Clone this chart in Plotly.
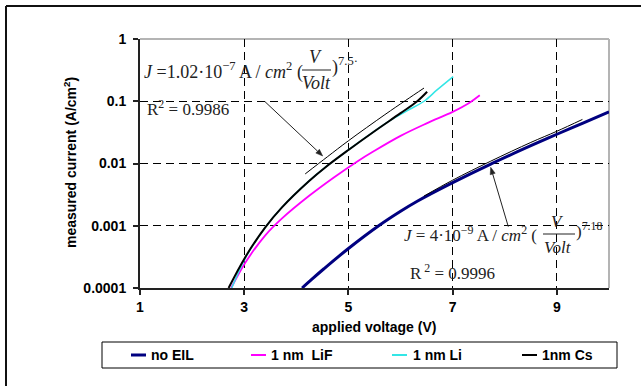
import plotly.graph_objects as go

# ---------------- data ----------------
V_noEIL = [4.11, 4.3, 4.53, 5.0, 5.58, 6.0, 6.32, 7.0, 7.73, 8.5, 9.0, 9.5, 10.0]
J_noEIL = [1.0e-4, 1.39e-4, 2.04e-4, 4.31e-4, 1.0e-3, 1.71e-3, 2.48e-3, 4.93e-3, 9.8e-3, 1.93e-2, 2.95e-2, 4.47e-2, 6.76e-2]

V_LiF = [2.75, 3.02, 3.40, 3.72, 4.24, 4.72, 5.17, 5.5, 6.0, 6.5, 7.0, 7.3, 7.52]
J_LiF = [1.0e-4, 2.54e-4, 6.95e-4, 1.30e-3, 3.0e-3, 5.97e-3, 1.08e-2, 1.6e-2, 2.78e-2, 4.41e-2, 6.75e-2, 9.2e-2, 1.25e-1]

V_Li = [2.76, 3.02, 3.40, 3.72, 4.24, 4.56, 5.0, 5.5, 5.81, 6.13, 6.45, 6.70, 7.01]
J_Li = [1.0e-4, 3.0e-4, 9.35e-4, 1.96e-3, 5.2e-3, 8.73e-3, 1.65e-2, 3.3e-2, 4.99e-2, 7.08e-2, 1.0e-1, 1.52e-1, 2.49e-1]

V_Cs = [2.70, 3.02, 3.40, 3.72, 4.24, 4.56, 5.0, 5.5, 6.0, 6.32, 6.51]
J_Cs = [1.0e-4, 3.13e-4, 9.35e-4, 1.96e-3, 5.2e-3, 8.73e-3, 1.65e-2, 3.3e-2, 6.43e-2, 1.0e-1, 1.42e-1]

V_fitCs = [4.17, 4.6, 5.0, 5.7, 6.1, 6.45]
J_fitCs = [6.8e-3, 1.29e-2, 2.32e-2, 6.1e-2, 1.035e-1, 1.63e-1]

V_fitNo = [6.45, 7.0, 7.73, 8.5, 9.0, 9.49]
J_fitNo = [3.0e-3, 5.4e-3, 1.09e-2, 2.18e-2, 3.3e-2, 5.1e-2]

x_ticks = [1, 3, 5, 7, 9]
y_ticks = [1e-4, 1e-3, 1e-2, 1e-1, 1]
y_ticktext = ["0.0001", "0.001", "0.01", "0.1", "1"]

series_names = ["no EIL", "1 nm  LiF", "1 nm Li", "1nm Cs"]
series_colors = ["#000080", "#FF00FF", "#33E6E6", "#000000"]

# ---------------- layout geometry ----------------
W, H = 641, 386
L, R, T, B = 140, 32, 39, 98
PW, PH = W - L - R, H - T - B


def px(x):
    return (x - L) / PW


def py(y):
    return (H - B - y) / PH


SANS = "Liberation Sans, Arial, sans-serif"
SERIF = "Liberation Serif, Times New Roman, serif"

fig = go.Figure()

series = [
    (V_noEIL, J_noEIL, 3.0),
    (V_LiF, J_LiF, 1.8),
    (V_Li, J_Li, 1.5),
    (V_Cs, J_Cs, 2.0),
]
for (vx, jy, w), name, col in zip(series, series_names, series_colors):
    fig.add_trace(go.Scatter(x=vx, y=jy, mode="lines", name=name, showlegend=False,
                             line=dict(color=col, width=w, shape="spline", smoothing=1.0)))

for vx, jy, name in [(V_fitCs, J_fitCs, "fit Cs"), (V_fitNo, J_fitNo, "fit no EIL")]:
    fig.add_trace(go.Scatter(x=vx, y=jy, mode="lines", name=name, showlegend=False,
                             line=dict(color="black", width=1, shape="spline", smoothing=1.0)))

axis_common = dict(
    showgrid=True, gridcolor="black", gridwidth=1, griddash="8px,5px",
    showline=True, linecolor="#222222", linewidth=2,
    ticks="outside", ticklen=5, tickcolor="#222222", tickwidth=1.5,
    zeroline=False,
    tickfont=dict(family=SANS, size=14, color="black", weight="bold"),
)

fig.update_xaxes(range=[1, 10], tickvals=x_ticks, **axis_common)
fig.update_yaxes(type="log", range=[-4, 0], tickvals=y_ticks, ticktext=y_ticktext,
                 ticklabelstandoff=4, **axis_common)

shapes = []
# outer chart frame: only the top and left edges lie inside the picture
shapes.append(dict(type="line", xref="paper", yref="paper",
                   x0=px(6), x1=px(641), y0=py(6), y1=py(6),
                   line=dict(color="#111111", width=2)))
shapes.append(dict(type="line", xref="paper", yref="paper",
                   x0=px(6), x1=px(6), y0=py(6), y1=py(386),
                   line=dict(color="#111111", width=2)))
# grey plot-area border (top and right)
shapes.append(dict(type="line", xref="paper", yref="paper", x0=0, x1=1, y0=1, y1=1,
                   line=dict(color="#b4b4b4", width=2), layer="below"))
shapes.append(dict(type="line", xref="paper", yref="paper", x0=1, x1=1, y0=0, y1=1,
                   line=dict(color="#b4b4b4", width=2), layer="below"))

# legend box
shapes.append(dict(type="rect", xref="paper", yref="paper",
                   x0=px(102), x1=px(617), y0=py(368), y1=py(342),
                   line=dict(color="black", width=1), fillcolor="white"))
leg_line_x = [131, 251, 392, 522]
leg_text_x = [149, 269, 411, 540]
leg_y = 355
for lx, col in zip(leg_line_x, series_colors):
    shapes.append(dict(type="line", xref="paper", yref="paper",
                       x0=px(lx), x1=px(lx + 15), y0=py(leg_y), y1=py(leg_y),
                       line=dict(color=col, width=3 if col == "#000080" else 2)))

# fraction bars in the formulas
shapes.append(dict(type="line", xref="paper", yref="paper",
                   x0=px(302), x1=px(331), y0=py(70), y1=py(70),
                   line=dict(color="#222222", width=1)))
shapes.append(dict(type="line", xref="paper", yref="paper",
                   x0=px(543), x1=px(575), y0=py(234), y1=py(234),
                   line=dict(color="#222222", width=1)))


# arrows (line + filled head), given in pixel positions of the picture
def arrow(tail, head, size=7, half=2.6):
    (tx, ty), (hx, hy) = tail, head
    dx, dy = hx - tx, hy - ty
    n = (dx * dx + dy * dy) ** 0.5
    ux, uy = dx / n, dy / n
    bx, by = hx - ux * size, hy - uy * size
    shapes.append(dict(type="line", xref="paper", yref="paper",
                       x0=px(tx), y0=py(ty), x1=px(bx), y1=py(by),
                       line=dict(color="#222222", width=1)))
    p1 = (bx - uy * half, by + ux * half)
    p2 = (bx + uy * half, by - ux * half)
    path = "M {} {} L {} {} L {} {} Z".format(px(hx), py(hy), px(p1[0]), py(p1[1]),
                                              px(p2[0]), py(p2[1]))
    shapes.append(dict(type="path", xref="paper", yref="paper", path=path,
                       fillcolor="#222222", line=dict(color="#222222", width=0.5)))


arrow((265, 101.7), (322.7, 156))
arrow((508.3, 226.7), (490.7, 167.3))

ann = []
for tx, name in zip(leg_text_x, series_names):
    ann.append(dict(xref="paper", yref="paper", x=px(tx), y=py(leg_y), text=name,
                    showarrow=False, xanchor="left", yanchor="middle",
                    font=dict(family=SANS, size=14, color="black", weight="bold")))

# axis titles
ann.append(dict(xref="paper", yref="paper", x=px(374), y=py(327),
                text="applied voltage (V)", showarrow=False,
                xanchor="center", yanchor="middle",
                font=dict(family=SANS, size=14, color="black", weight="bold")))
ann.append(dict(xref="paper", yref="paper", x=px(70), y=py(163),
                text="measured current (A/cm<sup>2</sup>)", showarrow=False, textangle=-90,
                xanchor="center", yanchor="middle",
                font=dict(family=SANS, size=14, color="black", weight="bold")))


def txt(x, y, s, anchor="left", size=17):
    ann.append(dict(xref="paper", yref="paper", x=px(x), y=py(y), text=s,
                    showarrow=False, xanchor=anchor, yanchor="middle",
                    font=dict(family=SERIF, size=size, color="#222222")))


# top formula
txt(305, 71, "<i>J</i> =1.02·10<sup>−7</sup> A / <i>cm</i><sup>2</sup> (", "right", 18)
txt(315, 57, "<i>V</i>", "center", 18)
txt(316, 83, "<i>Volt</i>", "center", 18)
txt(330, 66, ")<sup>7.5·</sup>", "left", 18)
txt(145, 108, "R<sup>2</sup> = 0.9986", "left", 17)

# bottom formula
txt(539, 234, "<i>J</i> = 4·10<sup>−9</sup> A / <i>cm</i><sup>2</sup> (", "right", 17)
txt(557, 221, "<i>V</i>", "center", 17)
txt(558, 247, "<i>Volt</i>", "center", 17)
txt(574, 230, ")<sup>7.18</sup>", "left", 17)
txt(408, 272, "R<sup> 2</sup> = 0.9996", "left", 17)

fig.update_layout(
    width=W, height=H,
    margin=dict(l=L, r=R, t=T, b=B),
    paper_bgcolor="white", plot_bgcolor="white",
    showlegend=False,
    shapes=shapes, annotations=ann,
)

fig.write_html("out.html")
